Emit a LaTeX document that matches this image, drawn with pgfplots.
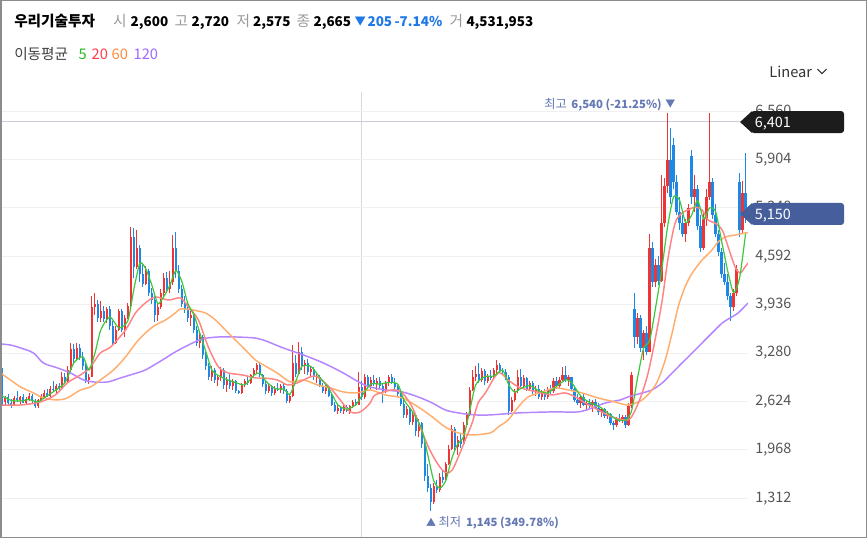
\documentclass[border=0pt]{standalone}
\usepackage{pgfplots}
\pgfplotsset{compat=1.18}
\usepackage{pgfplotstable}
\usepackage{fontspec}
\setmainfont{Noto Sans CJK KR}
\definecolor{upred}{HTML}{EE3434}
\definecolor{dnblue}{HTML}{1E88E5}
\definecolor{maA}{HTML}{3CC83C}
\definecolor{maB}{HTML}{FF8484}
\definecolor{maC}{HTML}{FFAE6E}
\definecolor{maD}{HTML}{B584FF}
\definecolor{gridc}{HTML}{F0F0F0}
\definecolor{tickc}{HTML}{555555}
\definecolor{hgray}{HTML}{999999}
\definecolor{hblue}{HTML}{1F78E6}
\definecolor{annc}{HTML}{6478B4}
\definecolor{boxblack}{HTML}{1C1C1C}
\definecolor{boxblue}{HTML}{475E9C}
\definecolor{crossc}{HTML}{C8CDD6}
\definecolor{vlinec}{HTML}{D8D8D8}
\definecolor{borderc}{HTML}{8C8C8C}
\definecolor{lgreen}{HTML}{22BB22}
\definecolor{lred}{HTML}{FF3B4B}
\definecolor{lorange}{HTML}{FF8C3C}
\definecolor{lpurple}{HTML}{A066FF}
\newcommand\hdr{\fontsize{11}{13}\selectfont}
\newcommand\hdn{\fontsize{10.1}{13}\selectfont\bfseries}
\newcommand\ann{\fontsize{9.2}{11}\selectfont}
\newcommand\annb{\fontsize{8.5}{11}\selectfont\bfseries}
\newcommand\tkf{\fontsize{10.8}{13}\selectfont}
\pgfplotstableread{
i o h l c
0 3050 3080 2560 2620
1 2620 2700 2560 2680
2 2680 2720 2580 2600
3 2600 2660 2540 2580
4 2580 2700 2570 2670
5 2670 2760 2620 2640
6 2640 2700 2590 2690
7 2690 2720 2600 2610
8 2610 2680 2580 2660
9 2660 2740 2630 2700
10 2700 2730 2610 2630
11 2630 2660 2530 2560
12 2560 2660 2540 2640
13 2640 2720 2620 2690
14 2690 2780 2660 2740
15 2740 2800 2680 2700
16 2700 2830 2690 2800
17 2800 2900 2760 2780
18 2780 2860 2740 2840
19 2840 2880 2760 2790
20 2790 3020 2780 2960
21 2960 3010 2860 2900
22 2900 3100 2880 3050
23 3050 3420 3020 3330
24 3330 3400 3150 3200
25 3200 3420 3180 3350
26 3350 3410 3180 3220
27 3220 3300 3050 3100
28 3100 3140 2880 2920
29 2920 3000 2860 2960
30 2960 4050 2950 3900
31 3900 4100 3800 3950
32 3950 4000 3700 3760
33 3760 3980 3700 3850
34 3850 3920 3700 3740
35 3740 3900 3690 3880
36 3880 3920 3600 3650
37 3650 3720 3370 3420
38 3420 3650 3400 3600
39 3600 3880 3580 3850
40 3850 3880 3560 3600
41 3600 3800 3500 3760
42 3760 3960 3740 3920
43 3920 4990 3900 4850
44 4850 4980 4300 4450
45 4450 4950 4420 4700
46 4700 4750 4250 4350
47 4350 4500 4180 4220
48 4220 4460 4200 4400
49 4400 4420 4050 4100
50 4100 4160 3950 4000
51 4000 4060 3700 3800
52 3800 3950 3720 3900
53 3900 4150 3880 4100
54 4100 4360 4050 4300
55 4300 4380 4100 4150
56 4150 4400 4100 4250
57 4250 4880 4200 4700
58 4700 4920 4300 4400
59 4400 4480 4100 4150
60 4150 4200 3900 3950
61 3950 4050 3820 3880
62 3880 3980 3700 3760
63 3760 3850 3650 3800
64 3800 3830 3550 3600
65 3600 3650 3380 3420
66 3420 3550 3350 3500
67 3500 3520 3200 3250
68 3250 3300 3050 3100
69 3100 3150 2920 2960
70 2960 3100 2900 3050
71 3050 3080 2880 2920
72 2920 2980 2830 2950
73 2950 3090 2900 3050
74 3050 3080 2800 2850
75 2850 2960 2750 2920
76 2920 3000 2800 2840
77 2840 2930 2780 2900
78 2900 2920 2740 2760
79 2760 2780 2720 2740
80 2740 2880 2730 2860
81 2860 2930 2820 2900
82 2900 2960 2850 2880
83 2880 3000 2860 2980
84 2980 3080 2940 3050
85 3050 3150 3000 3120
86 3120 3140 2950 2980
87 2980 3000 2820 2860
88 2860 2900 2720 2760
89 2760 2860 2740 2830
90 2830 2850 2700 2740
91 2740 2830 2710 2800
92 2800 2880 2760 2780
93 2780 2860 2740 2840
94 2840 2880 2730 2760
95 2760 2790 2600 2630
96 2630 2720 2610 2700
97 2700 3390 2690 3150
98 3150 3250 2950 3000
99 3000 3430 2980 3300
100 3300 3360 3050 3100
101 3100 3180 3000 3150
102 3150 3200 2980 3020
103 3020 3100 2960 3060
104 3060 3090 2920 2950
105 2950 3000 2880 2960
106 2960 2980 2820 2840
107 2840 2880 2740 2770
108 2770 2860 2730 2820
109 2820 2840 2680 2700
110 2700 2720 2560 2580
111 2580 2620 2480 2500
112 2500 2580 2460 2540
113 2540 2560 2470 2490
114 2490 2570 2460 2550
115 2550 2580 2480 2500
116 2500 2580 2460 2560
117 2560 2640 2530 2620
118 2620 2660 2560 2580
119 2580 3030 2570 2820
120 2820 2900 2640 2680
121 2680 3000 2660 2950
122 2950 2980 2800 2830
123 2830 2960 2800 2920
124 2920 2990 2830 2860
125 2860 2940 2780 2900
126 2900 2950 2800 2830
127 2830 2880 2600 2760
128 2760 2900 2740 2870
129 2870 2980 2840 2950
130 2950 3000 2860 2880
131 2880 2940 2800 2820
132 2820 2850 2700 2720
133 2720 2760 2560 2590
134 2590 2640 2400 2440
135 2440 2560 2400 2520
136 2520 2540 2300 2340
137 2340 2480 2300 2440
138 2440 2460 2150 2220
139 2220 2380 2140 2330
140 2330 2350 2000 2050
141 2050 2080 1550 1620
142 1620 1780 1400 1450
143 1450 1500 1145 1260
144 1260 1520 1230 1480
145 1480 1560 1380 1420
146 1420 1650 1400 1600
147 1600 1700 1520 1560
148 1560 1800 1540 1780
149 1780 2040 1760 1980
150 1980 2310 1960 2250
151 2250 2280 1960 2010
152 2010 2150 1900 2100
153 2100 2200 2000 2050
154 2050 2350 2030 2300
155 2300 2480 2280 2450
156 2450 2820 2430 2780
157 2780 3050 2760 2950
158 2950 3100 2900 3000
159 3000 3150 2880 2920
160 2920 3080 2890 3040
161 3040 3060 2850 2900
162 2900 3000 2870 2970
163 2970 3050 2910 2940
164 2940 3080 2920 3050
165 3050 3190 3000 3120
166 3120 3150 3010 3040
167 3040 3080 2980 3020
168 3020 3060 2920 2950
169 2950 2980 2440 2500
170 2500 2680 2480 2650
171 2650 2800 2620 2760
172 2760 3050 2740 2950
173 2950 3060 2800 2830
174 2830 2980 2810 2940
175 2940 2960 2770 2800
176 2800 2900 2760 2870
177 2870 2900 2720 2750
178 2750 2830 2700 2800
179 2800 2850 2660 2690
180 2690 2780 2640 2740
181 2740 2800 2650 2680
182 2680 2820 2660 2790
183 2790 2850 2730 2760
184 2760 2940 2740 2900
185 2900 2960 2800 2830
186 2830 2950 2800 2920
187 2920 3090 2900 2990
188 2990 3100 2890 2920
189 2920 2980 2840 2950
190 2950 2960 2760 2790
191 2790 2830 2620 2650
192 2650 2720 2580 2610
193 2610 2700 2540 2680
194 2680 2720 2560 2580
195 2580 2640 2500 2600
196 2600 2660 2540 2570
197 2570 2640 2480 2620
198 2620 2660 2520 2540
199 2540 2600 2440 2480
200 2480 2550 2420 2520
201 2520 2540 2400 2430
202 2430 2500 2380 2460
203 2460 2470 2300 2330
204 2330 2360 2240 2300
205 2300 2420 2280 2390
206 2390 2450 2340 2360
207 2360 2440 2330 2420
208 2420 2440 2260 2300
209 2300 2600 2290 2560
210 2560 3020 2540 2990
211 3880 4090 3350 3500
212 3500 3820 3400 3750
213 3750 3800 3300 3350
214 3350 3600 3190 3550
215 3550 3650 3250 3300
216 3300 4900 3290 4700
217 4700 4780 4180 4250
218 4250 4550 4170 4480
219 4480 4600 4200 4260
220 4260 5700 4250 5050
221 5050 5650 4990 5550
222 5550 6540 5450 5900
223 5900 6330 5300 5400
224 6100 6200 5500 5600
225 5600 5700 5150 5200
226 5200 5400 4950 5050
227 5050 5150 4850 4900
228 4900 5100 4780 5050
229 5050 5300 5000 5250
230 5950 6030 5300 5400
231 5400 5700 5200 5500
232 5500 5560 4950 5000
233 5000 5150 4650 4700
234 4700 5200 4680 5100
235 5100 5500 5000 5400
236 5400 6530 5350 5600
237 5600 5650 5100 5150
238 5150 5300 4850 4900
239 4900 4950 4600 4650
240 4650 4700 4300 4350
241 4350 4500 4200 4250
242 4250 4350 4000 4050
243 4050 4100 3720 3900
244 3900 4150 3850 4100
245 4100 4480 4050 4420
246 5600 5720 4850 4950
247 4950 5620 4900 5450
248 5450 5990 5050 5150
}\candles
\begin{document}
\begin{tikzpicture}
\begin{scope}[x=0.75pt,y=-0.75pt,shift={(0pt,403.5pt)}]
\useasboundingbox (0,0) rectangle (868,538);
\fill[white] (0,0) rectangle (868,538);
\draw[vlinec, line width=0.75pt] (361,92) -- (361,537);
\draw[crossc, line width=0.75pt] (0,121.7) -- (740,121.7);
\end{scope}
\begin{axis}[
  at={(0pt,0.75pt)}, anchor=south west,
  width=561pt, height=333.75pt, scale only axis,
  xmin=-0.5, xmax=248.83, ymin=790, ymax=6820,
  axis line style={draw=none},
  xtick=\empty,
  ytick={1312,1968,2624,3280,3936,4592,5248,5904,6560},
  yticklabels={{1,312},{1,968},{2,624},{3,280},{3,936},{4,592},{5,248},{5,904},{6,560}},
  yticklabel pos=right,
  major tick length=0pt,
  ymajorgrids, grid style={gridc, line width=0.75pt},
  yticklabel style={font=\tkf, text=tickc, anchor=west, inner sep=0pt, xshift=5.25pt},
]
% up wicks
\addplot[draw=none, no markers, forget plot,
  error bars/.cd, y dir=plus, y explicit, error mark=none,
  error bar style={draw=upred, line width=0.7pt}]
  table[x=i, y expr={\thisrow{c}>=\thisrow{o} ? \thisrow{l} : -20000}, y error plus expr={\thisrow{h}-\thisrow{l}}] {\candles};
% up bodies
\addplot[draw=none, no markers, forget plot,
  error bars/.cd, y dir=plus, y explicit, error mark=none,
  error bar style={draw=upred, line width=1.8pt}]
  table[x=i, y expr={\thisrow{c}>=\thisrow{o} ? \thisrow{o} : -20000}, y error plus expr={max(\thisrow{c}-\thisrow{o},14)}] {\candles};
% down wicks
\addplot[draw=none, no markers, forget plot,
  error bars/.cd, y dir=plus, y explicit, error mark=none,
  error bar style={draw=dnblue, line width=0.7pt}]
  table[x=i, y expr={\thisrow{c}<\thisrow{o} ? \thisrow{l} : -20000}, y error plus expr={\thisrow{h}-\thisrow{l}}] {\candles};
% down bodies
\addplot[draw=none, no markers, forget plot,
  error bars/.cd, y dir=plus, y explicit, error mark=none,
  error bar style={draw=dnblue, line width=1.8pt}]
  table[x=i, y expr={\thisrow{c}<\thisrow{o} ? \thisrow{c} : -20000}, y error plus expr={abs(\thisrow{o}-\thisrow{c})}] {\candles};
% MA120
\addplot[maD, line width=1.1pt, smooth, tension=0.5, mark=none] coordinates {
(-0.5,3404)(2.8,3390)(6.2,3350)(10.5,3282)(13.8,3146)(18.5,3079)(22.8,3011)(27.2,2916)(30.5,2889)(35.2,2889)(39.5,2943)(42.8,2984)(47.8,3052)(53.5,3187)(57.8,3296)(62.2,3390)(66.8,3472)(72.2,3499)(77.8,3499)(84.5,3485)(87.2,3458)(93.8,3350)(100.5,3255)(107.2,3146)(113.8,3011)(119.5,2876)(122.8,2821)(127.8,2781)(133.5,2754)(138.8,2686)(143.5,2604)(147.8,2510)(152.2,2469)(157.8,2442)(162.8,2442)(172.2,2469)(183.5,2483)(192.2,2483)(196.8,2537)(201.2,2604)(206.2,2645)(208.8,2686)(213.5,2740)(216.8,2781)(220.2,2876)(223.5,3011)(226.8,3146)(230.2,3282)(233.5,3418)(236.8,3553)(240.2,3688)(242.8,3756)(245.5,3824)(248.8,3959)};
% MA60
\addplot[maC, line width=1.1pt, smooth, tension=0.5, mark=none] coordinates {
(-0.5,3011)(2.8,2916)(6.2,2821)(10.5,2740)(13.8,2672)(18.5,2645)(21.8,2672)(26.2,2781)(29.5,2821)(32.8,2916)(37.2,3052)(41.2,3228)(45.5,3458)(50.2,3634)(54.5,3729)(57.8,3824)(59.5,3878)(63.5,3865)(67.8,3824)(71.2,3729)(74.5,3594)(77.8,3458)(81.2,3323)(84.5,3187)(87.2,3119)(91.8,3011)(96.2,2889)(100.5,2916)(105.2,2849)(109.5,2808)(113.8,2754)(118.5,2740)(122.8,2781)(127.8,2713)(133.5,2672)(138.8,2550)(143.5,2415)(147.8,2279)(152.2,2198)(156.8,2171)(162.8,2198)(165.5,2279)(168.8,2374)(172.2,2550)(175.5,2686)(180.2,2754)(184.5,2808)(188.8,2781)(193.5,2740)(198.8,2672)(204.5,2618)(208.8,2577)(213.5,2645)(216.8,2781)(218.8,2916)(221.2,3187)(223.5,3553)(225.5,3905)(227.8,4176)(230.2,4366)(233.5,4542)(236.8,4678)(238.8,4786)(241.2,4854)(244.5,4881)(247.8,4908)(248.8,4912)};
% MA20
\addplot[maB, line width=1.1pt, smooth, tension=0.5, mark=none] coordinates {
(-0.5,2577)(6.2,2577)(12.8,2618)(17.8,2713)(21.8,2876)(27.2,3011)(29.5,3092)(32.8,3282)(36.2,3363)(41.2,3594)(44.5,3824)(47.8,3959)(51.2,4041)(55.5,4000)(59.5,4027)(62.2,3905)(65.5,3729)(68.8,3363)(72.2,3092)(75.5,3011)(80.2,2984)(84.5,2943)(87.2,2943)(91.8,2916)(95.2,2849)(98.5,2876)(102.8,2957)(105.2,2957)(109.5,2808)(112.8,2645)(116.2,2483)(119.5,2483)(122.8,2604)(124.5,2713)(130.2,2781)(133.5,2740)(136.8,2550)(139.5,2279)(142.2,2008)(144.5,1832)(146.8,1697)(148.5,1656)(150.2,1697)(152.2,1873)(154.5,2103)(156.8,2334)(158.8,2604)(161.2,2740)(165.5,3011)(168.8,2916)(172.2,2821)(175.5,2781)(180.2,2740)(183.5,2713)(187.8,2740)(191.2,2686)(194.5,2604)(198.8,2510)(203.5,2415)(208.8,2374)(211.2,2510)(213.5,2740)(215.5,3011)(217.8,3458)(220.2,4000)(222.2,4583)(224.5,5043)(226.8,5179)(228.8,5220)(231.2,5260)(233.5,5220)(235.5,5084)(237.8,5043)(240.2,4949)(242.2,4718)(244.5,4447)(246.2,4366)(247.8,4447)(248.8,4501)};
% MA5
\addplot[maA, line width=0.9pt, smooth, tension=0.4, mark=none] coordinates {
(0,2700)(3,2640)(6,2630)(9,2650)(12,2620)(15,2700)(18,2780)(21,2880)(24,3150)(27,3230)(29,3050)(31,3280)(33,3600)(36,3770)(39,3620)(42,3720)(44,4150)(46,4500)(48,4420)(50,4200)(52,3950)(54,4050)(56,4200)(58,4400)(60,4250)(62,3950)(64,3800)(66,3550)(68,3300)(70,3050)(72,2980)(75,2920)(78,2880)(81,2850)(84,2980)(86,3010)(88,2900)(91,2800)(94,2790)(96,2720)(98,2900)(100,3100)(103,3100)(106,2950)(109,2800)(112,2580)(115,2520)(118,2580)(120,2700)(123,2860)(126,2860)(129,2880)(132,2860)(134,2650)(137,2480)(140,2250)(142,1900)(144,1550)(146,1450)(148,1550)(150,1850)(152,2050)(154,2150)(156,2500)(158,2850)(161,2960)(164,2970)(167,3050)(169,2850)(171,2750)(173,2800)(176,2840)(179,2770)(182,2740)(185,2830)(188,2920)(190,2880)(193,2700)(196,2610)(199,2560)(202,2470)(205,2380)(208,2370)(210,2500)(212,2950)(214,3350)(216,3450)(218,3900)(220,4400)(222,5000)(224,5400)(226,5350)(228,5050)(230,5150)(232,5350)(234,5100)(236,5250)(238,5200)(240,4800)(242,4400)(244,4100)(246,4300)(248,4900)};
\end{axis}
\begin{scope}[x=0.75pt,y=-0.75pt,shift={(0pt,403.5pt)}]
% header line 1
\node[anchor=base west, inner sep=0, font=\hdr\bfseries] at (13.5,26.5) {우리기술투자};
\node[anchor=base west, inner sep=0, font=\hdr, text=hgray] at (112.5,26.5) {시};
\node[anchor=base west, inner sep=0, font=\hdn] at (130,26.5) {2,600};
\node[anchor=base west, inner sep=0, font=\hdr, text=hgray] at (174,26.5) {고};
\node[anchor=base west, inner sep=0, font=\hdn] at (191,26.5) {2,720};
\node[anchor=base west, inner sep=0, font=\hdr, text=hgray] at (236,26.5) {저};
\node[anchor=base west, inner sep=0, font=\hdn] at (252.5,26.5) {2,575};
\node[anchor=base west, inner sep=0, font=\hdr, text=hgray] at (296,26.5) {종};
\node[anchor=base west, inner sep=0, font=\hdn] at (313,26.5) {2,665};
\node[anchor=base west, inner sep=0, font=\fontsize{8.5}{10}\selectfont, text=hblue] at (354,25.5) {▼};
\node[anchor=base west, inner sep=0, font=\hdn, text=hblue] at (367,26.5) {205};
\node[anchor=base west, inner sep=0, font=\hdn, text=hblue] at (394,26.5) {-7.14\%};
\node[anchor=base west, inner sep=0, font=\hdr, text=hgray] at (449,26.5) {거};
\node[anchor=base west, inner sep=0, font=\hdn] at (466,26.5) {4,531,953};
% header line 2
\node[anchor=base west, inner sep=0, font=\hdr, text=black!75] at (13.5,59.5) {이동평균};
\node[anchor=base west, inner sep=0, font=\hdr, text=lgreen] at (78,59.5) {5};
\node[anchor=base west, inner sep=0, font=\hdr, text=lred] at (91,59.5) {20};
\node[anchor=base west, inner sep=0, font=\hdr, text=lorange] at (111,59.5) {60};
\node[anchor=base west, inner sep=0, font=\hdr, text=lpurple] at (133,59.5) {120};
% Linear
\node[anchor=base west, inner sep=0, font=\hdr, text=black!80] at (769,77) {Linear};
\draw[black!80, line width=0.8pt] (817.5,69) -- (822,73.5) -- (826.5,69);
% top annotation
\node[anchor=base west, inner sep=0, font=\ann, text=annc] at (544,108.5) {최고};
\node[anchor=base west, inner sep=0, font=\annb, text=annc] at (571,108.5) {6,540 (-21.25\%)};
\node[anchor=base west, inner sep=0, font=\fontsize{7.5}{9}\selectfont, text=annc] at (665,107.5) {▼};
% bottom annotation
\node[anchor=base west, inner sep=0, font=\fontsize{7.5}{9}\selectfont, text=annc] at (425.5,526.5) {▲};
\node[anchor=base west, inner sep=0, font=\ann, text=annc] at (438,527) {최저};
\node[anchor=base west, inner sep=0, font=\annb, text=annc] at (465.5,527) {1,145 (349.78\%)};
% black price box
\fill[boxblack] (740,122) -- (752,111) -- (752,133) -- cycle;
\fill[boxblack, rounded corners=2.2pt] (751,111) -- (844,111) -- (844,133) -- (751,133) -- cycle;
\node[anchor=base west, inner sep=0, font=\tkf, text=white] at (754.5,127.5) {6,401};
% blue price box
\fill[boxblue] (740,214) -- (752,203) -- (752,225) -- cycle;
\fill[boxblue, rounded corners=2.2pt] (751,203) -- (844,203) -- (844,225) -- (751,225) -- cycle;
\node[anchor=base west, inner sep=0, font=\tkf, text=white] at (754.5,219.5) {5,150};
% frame
\draw[borderc, line width=0.9pt] (0.5,0.5) rectangle (866.8,537.5);
\end{scope}
\end{tikzpicture}
\end{document}
